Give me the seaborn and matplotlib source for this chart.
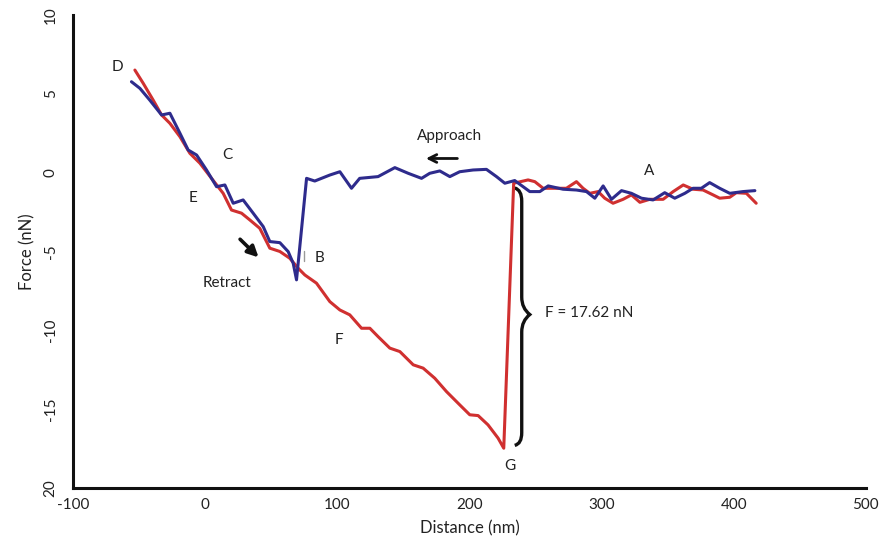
import numpy as np
import pandas as pd
import matplotlib
matplotlib.use("Agg")
import matplotlib.pyplot as plt
import seaborn as sns
from matplotlib.path import Path
from matplotlib.patches import PathPatch

# approach curve (blue)
approach_x = [-55.7, -49.3, -41.8, -32.9, -26.6, -19.0, -12.8, -6.4, 1.1, 8.7, 15.0, 21.3,
              28.8, 36.4, 44.0, 49.0, 56.6, 62.9, 66.7, 69.2, 76.8, 83.0, 94.4, 102.0,
              110.8, 117.0, 130.9, 143.6, 153.7, 163.8, 170.0, 177.6, 185.2, 192.7, 202.8,
              212.9, 220.5, 226.8, 234.3, 245.7, 253.3, 259.6, 270.9, 281.0, 288.6, 294.9,
              301.2, 307.5, 315.1, 322.6, 330.2, 339.0, 347.8, 355.4, 363.0, 369.2, 375.5,
              381.8, 389.4, 397.0, 407.0, 416.0]
approach_f = [5.77, 5.35, 4.6, 3.66, 3.77, 2.5, 1.44, 1.12, 0.17, -0.89, -0.78, -1.94,
              -1.73, -2.57, -3.42, -4.37, -4.44, -5.01, -5.75, -6.8, -0.36, -0.53, -0.15, 0.06,
              -0.99, -0.36, -0.25, 0.32, -0.04, -0.36, -0.04, 0.11, -0.25, 0.06, 0.17,
              0.21, -0.25, -0.67, -0.5, -1.2, -1.2, -0.84, -1.05, -1.1, -1.2, -1.62,
              -0.84, -1.69, -1.14, -1.31, -1.62, -1.73, -1.27, -1.62, -1.31, -0.99, -0.99,
              -0.63, -0.99, -1.31, -1.2, -1.14]

# retract curve (red)
retract_x = [-53.1, -46.8, -39.3, -32.9, -26.6, -19.0, -11.5, -3.9, 4.9, 13.7, 20.0, 27.6,
             33.9, 41.4, 49.0, 56.6, 64.1, 70.4, 75.5, 84.3, 94.4, 102.0, 109.5, 118.4,
             124.7, 130.9, 139.8, 147.4, 157.5, 165.0, 173.8, 182.7, 192.7, 200.3, 206.6,
             214.1, 221.7, 226.0, 233.5, 244.4, 249.5, 255.8, 265.9, 273.4, 281.0, 286.0,
             291.1, 297.4, 302.4, 308.7, 316.3, 322.6, 329.0, 336.5, 346.6, 354.2, 361.8,
             369.2, 376.8, 384.4, 389.4, 397.0, 402.0, 409.6, 417.0]
retract_f = [6.51, 5.67, 4.61, 3.66, 3.13, 2.28, 1.23, 0.6, -0.36, -1.31, -2.37, -2.57,
             -3.0, -3.53, -4.79, -5.0, -5.43, -6.06, -6.49, -7.01, -8.18, -8.71, -9.02, -9.87,
             -9.87, -10.4, -11.13, -11.35, -12.19, -12.4, -13.04, -13.89, -14.73, -15.36, -15.41,
             -16.0, -16.84, -17.48, -0.67, -0.46, -0.57, -0.99, -0.99, -0.99, -0.57, -0.99,
             -1.31, -1.2, -1.62, -1.94, -1.69, -1.41, -1.88, -1.69, -1.69, -1.2, -0.78,
             -1.05, -1.1, -1.41, -1.62, -1.56, -1.27, -1.31, -1.94]

x_ticks = [-100, 0, 100, 200, 300, 400, 500]
y_ticks = [10, 5, 0, -5, -10, -15, -20]
y_tick_labels = ["10", "5", "0", "-5", "-10", "-15", "20"]

sns.set_style("white")
plt.rcParams['font.family'] = ['Lato', 'DejaVu Sans']
plt.rcParams['axes.unicode_minus'] = False

fig = plt.figure(figsize=(8.89, 5.57), dpi=100)
ax = fig.add_axes([0.082, 0.124, 0.892, 0.849])

df_a = pd.DataFrame({"Distance": approach_x, "Force": approach_f})
df_r = pd.DataFrame({"Distance": retract_x, "Force": retract_f})
sns.lineplot(data=df_r, x="Distance", y="Force", sort=False, color="#d03030", lw=2.2, ax=ax)
sns.lineplot(data=df_a, x="Distance", y="Force", sort=False, color="#2e2b8c", lw=2.2, ax=ax)

ax.set_xlim(-100, 500)
ax.set_ylim(-20, 10)
ax.set_xticks(x_ticks)
ax.set_yticks(y_ticks)
ax.set_yticklabels(y_tick_labels, rotation=90, va="center")
ax.tick_params(axis="both", direction="inout", length=6, width=1.5, labelsize=11,
               colors="#222222", pad=4)
ax.tick_params(axis="y", pad=8)
ax.set_xlabel("Distance (nm)", fontsize=12, color="#222222", labelpad=6)
ax.set_ylabel("Force (nN)", fontsize=12, color="#222222", labelpad=6)
for s in ["top", "right"]:
    ax.spines[s].set_visible(False)
for s in ["left", "bottom"]:
    ax.spines[s].set_linewidth(2.2)
    ax.spines[s].set_color("#111111")

txt = dict(fontsize=11, color="#222222", ha="center", va="center")
ax.text(-66, 6.7, "D", **txt)
ax.text(17.2, 1.1, "C", **txt)
ax.text(-9.2, -1.6, "E", **txt)
ax.text(86.8, -5.4, "B", **txt)
ax.text(16.5, -7.0, "Retract", **txt)
ax.text(185, 2.3, "Approach", **txt)
ax.text(335.7, 0.1, "A", **txt)
ax.text(101.2, -10.6, "F", **txt)
ax.text(230.6, -18.6, "G", **txt)
ax.text(257, -8.9, "F = 17.62 nN", fontsize=11, color="#222222", ha="left", va="center")

# arrows
ax.annotate("", xy=(42, -5.5), xytext=(25, -4.1),
            arrowprops=dict(arrowstyle="-|>", color="#111111", lw=2.6, mutation_scale=16))
ax.annotate("", xy=(165, 0.9), xytext=(193, 0.9),
            arrowprops=dict(arrowstyle="->", color="#111111", lw=2, mutation_scale=14))

# small marker near B
ax.plot([74.5, 74.5], [-5.0, -5.6], color="#999999", lw=1)

# brace
verts = [(234.3, -0.97), (239.6, -1.1), (239.6, -1.8), (239.6, -4.0),
         (239.6, -7.9), (239.6, -8.6), (245.7, -9.0),
         (239.6, -9.4), (239.6, -10.1), (239.6, -13.0), (239.6, -16.5),
         (239.6, -17.2), (234.3, -17.3)]
codes = [Path.MOVETO, Path.CURVE3, Path.CURVE3, Path.LINETO,
         Path.LINETO, Path.CURVE3, Path.CURVE3,
         Path.CURVE3, Path.CURVE3, Path.LINETO, Path.LINETO,
         Path.CURVE3, Path.CURVE3]
ax.add_patch(PathPatch(Path(verts, codes), fill=False, color="#111111", lw=2.4))

fig.savefig("out.png", dpi=100)
